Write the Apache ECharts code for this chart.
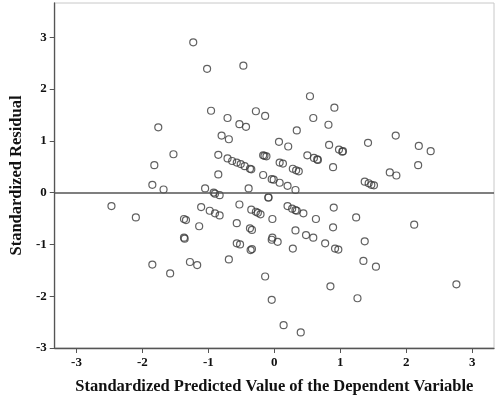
<!DOCTYPE html>
<html>
<head>
<meta charset="utf-8">
<script src="https://cdn.jsdelivr.net/npm/echarts@6/dist/echarts.min.js"></script>
<style>
  html, body { margin: 0; padding: 0; background: #fff; }
  #chart { width: 500px; height: 400px; }
</style>
</head>
<body>
<div id="chart"></div>
<script>
// tick labels on both axes
const xTicks = [-3, -2, -1, 0, 1, 2, 3];
const yTicks = [-3, -2, -1, 0, 1, 2, 3];

// standardized predicted values (x) and residuals (y)
const predicted = [
  -1.23, -1.02, -0.47, -0.96, -0.71, -0.53, -0.43, -1.76, -0.80, -0.69,
  -1.53, -0.85, -1.82, -0.71, -0.64, -0.57, -0.51, -0.45, -0.37, -0.35,
  -0.85, -1.85, -1.68, -1.05, -0.92, -0.90, -0.83, -0.39, -0.28, -0.14,
  0.54, 0.91, 0.59, 0.34, 0.82, 0.07, 0.21, 0.83, 0.98, 1.04,
  1.03, 1.42, 1.84, 2.19, 2.37, 2.18, -0.17, -0.15, -0.12, 0.08,
  0.13, 0.50, 0.60, 0.65, 0.66, 0.89, -0.17, -0.04, -0.01, 0.08,
  0.20, 0.32, 0.28, 0.33, 0.37, 1.37, 1.43, 1.47, 1.51, 1.75,
  1.85, -0.09, -0.09,
  -2.47, -2.10, -1.11, -0.98, -0.90, -0.83, -0.53, -0.35, -0.28, -0.25,
  -0.21, -0.03, -1.37, -1.34, -0.57, -1.14, -0.37, -0.34, -1.37, -1.36,
  -0.03, -0.69, -0.57, -0.52, -0.36, -0.34, -1.85, -1.58, -1.28, -1.17,
  -0.04, 0.05, -0.14, -0.04, 0.14, 0.40, 0.20, 0.27, 0.32, 0.34,
  0.44, 0.90, 0.63, 1.24, 2.12, 0.32, 0.89, 0.48, 0.59, 0.77,
  0.28, 0.92, 0.97, 1.37, 1.35, 1.54, 0.85, 2.76, 1.26
];
const residual = [
  2.90, 2.39, 2.45, 1.58, 1.44, 1.32, 1.27, 1.26, 1.10, 1.03,
  0.74, 0.73, 0.53, 0.66, 0.61, 0.58, 0.55, 0.51, 0.46, 0.45,
  0.35, 0.15, 0.06, 0.08, 0.00, -0.02, -0.05, 0.08, 1.57, 1.48,
  1.86, 1.64, 1.44, 1.20, 1.31, 0.98, 0.89, 0.92, 0.83, 0.80,
  0.79, 0.96, 1.10, 0.90, 0.80, 0.53, 0.72, 0.71, 0.70, 0.58,
  0.56, 0.72, 0.67, 0.64, 0.63, 0.49, 0.34, 0.26, 0.25, 0.19,
  0.13, 0.05, 0.46, 0.43, 0.41, 0.21, 0.18, 0.15, 0.14, 0.39,
  0.33, -0.09, -0.10,
  -0.26, -0.48, -0.28, -0.35, -0.40, -0.44, -0.23, -0.33, -0.37, -0.39,
  -0.42, -0.51, -0.51, -0.53, -0.59, -0.65, -0.69, -0.72, -0.87, -0.89,
  -0.87, -1.29, -0.98, -1.00, -1.11, -1.09, -1.39, -1.56, -1.34, -1.40,
  -0.91, -0.95, -1.62, -2.07, -2.56, -2.70, -0.26, -0.31, -0.34, -0.35,
  -0.40, -0.29, -0.51, -0.48, -0.62, -0.73, -0.67, -0.82, -0.87, -0.98,
  -1.08, -1.08, -1.10, -0.94, -1.32, -1.43, -1.81, -1.77, -2.04
];

const points = predicted.map((x, i) => [x, residual[i]]);

const chart = echarts.init(document.getElementById('chart'));
const font = 'Liberation Serif';

chart.setOption({
  backgroundColor: '#ffffff',
  animation: false,
  grid: {
    left: 49, right: 6, top: 3, bottom: 51,
    show: true,
    borderColor: '#c8c8c8',
    borderWidth: 1
  },
  xAxis: {
    type: 'value',
    min: -3.33,
    max: 3.33,
    name: 'Standardized Predicted Value of the Dependent Variable',
    nameLocation: 'middle',
    nameGap: 30,
    nameTextStyle: { fontFamily: font, fontWeight: 'bold', fontSize: 16.5, color: '#111' },
    axisLine: { onZero: false, lineStyle: { color: '#555', width: 1.3 } },
    axisTick: { show: true, length: 5, customValues: xTicks, lineStyle: { color: '#555' } },
    axisLabel: {
      customValues: xTicks,
      margin: 8,
      fontFamily: font, fontWeight: 'bold', fontSize: 13, color: '#111'
    },
    splitLine: { show: false }
  },
  yAxis: {
    type: 'value',
    min: -3,
    max: 3.66,
    name: 'Standardized Residual',
    nameLocation: 'middle',
    nameGap: 29,
    nameTextStyle: { fontFamily: font, fontWeight: 'bold', fontSize: 16.5, color: '#111' },
    axisLine: { onZero: false, lineStyle: { color: '#555', width: 1.3 } },
    axisTick: { show: true, length: 5, customValues: yTicks, lineStyle: { color: '#555' } },
    axisLabel: {
      customValues: yTicks,
      margin: 8,
      fontFamily: font, fontWeight: 'bold', fontSize: 13, color: '#111'
    },
    splitLine: { show: false }
  },
  series: [{
    type: 'scatter',
    data: points,
    symbol: 'circle',
    symbolSize: 7,
    itemStyle: { color: 'rgba(255,255,255,0)', borderColor: '#3a3a3a', borderWidth: 1.2 },
    markLine: {
      silent: true,
      symbol: 'none',
      label: { show: false },
      lineStyle: { color: '#555', width: 1.5, type: 'solid' },
      data: [{ yAxis: 0 }]
    }
  }]
});
</script>
</body>
</html>
